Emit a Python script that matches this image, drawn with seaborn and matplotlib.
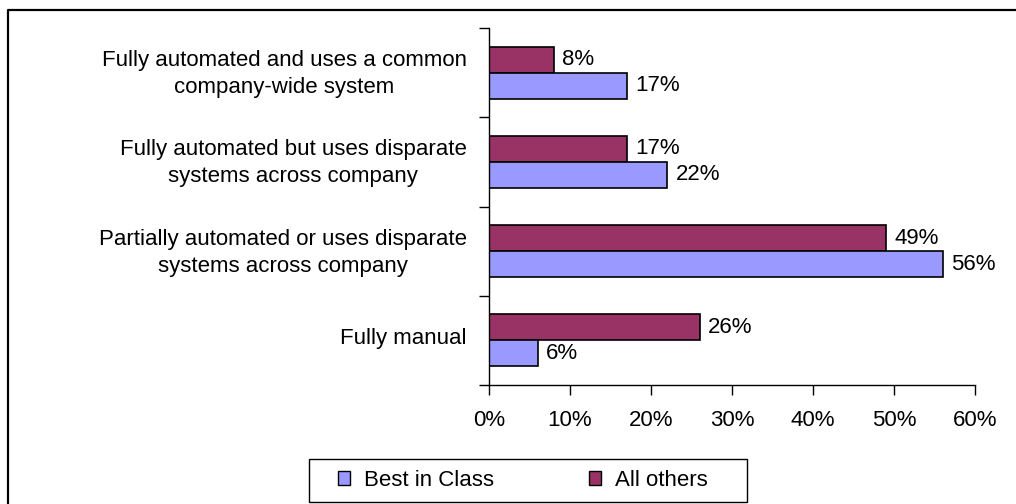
import matplotlib
matplotlib.use("Agg")
import matplotlib.pyplot as plt
import seaborn as sns
import pandas as pd
from matplotlib.lines import Line2D
from matplotlib.patches import Patch, Rectangle
from matplotlib.ticker import FixedLocator
from matplotlib.transforms import ScaledTranslation

# --- data -------------------------------------------------------------
categories = [
    "Fully automated and uses a common\ncompany-wide system",
    "Fully automated but uses disparate\nsystems across company",
    "Partially automated or uses disparate\nsystems across company",
    "Fully manual",
]
best_in_class = [17, 22, 56, 6]
all_others = [8, 17, 49, 26]
series_names = ["Best in Class", "All others"]
x_ticks = [0, 10, 20, 30, 40, 50, 60]
x_tick_labels = [f"{t}%" for t in x_ticks]

colors = {"Best in Class": "#9999FF", "All others": "#993366"}

df = pd.DataFrame({
    "category": categories * 2,
    "value": best_in_class + all_others,
    "group": [series_names[0]] * len(categories) + [series_names[1]] * len(categories),
})

# --- style ------------------------------------------------------------
sns.set_theme(style="white")
plt.rcParams["font.family"] = ["Liberation Sans", "DejaVu Sans"]
for key in ("text.color", "axes.labelcolor", "xtick.color", "ytick.color"):
    plt.rcParams[key] = "black"
FS = 16

W, H = 1016, 504
fig = plt.figure(figsize=(W / 100, H / 100), dpi=100)
fig.patch.set_facecolor("white")
ax = fig.add_axes([489 / W, 1 - 385 / H, (975 - 489) / W, (385 - 28) / H])

sns.barplot(
    data=df, y="category", x="value", hue="group",
    order=categories, hue_order=["All others", "Best in Class"],
    palette=colors, saturation=1, width=0.58, orient="h",
    edgecolor="black", linewidth=1.2, ax=ax, legend=False,
)

for cont in ax.containers:
    ax.bar_label(cont, fmt="{:.0f}%", padding=6, fontsize=FS, color="black")

ax.set_xlim(0, 60)
ax.set_ylim(len(categories) - 0.5, -0.5)
ax.set_xticks(x_ticks)
ax.set_xticklabels(x_tick_labels, fontsize=FS)
ax.set_xlabel("")
ax.set_ylabel("")

# category labels centred on the band, tick marks on the band boundaries
ax.tick_params(axis="y", which="major", length=0, pad=16, labelsize=FS, labelcolor="black")
ax.yaxis.set_minor_locator(FixedLocator([i - 0.5 for i in range(len(categories) + 1)]))
ax.tick_params(axis="y", which="minor", length=7, width=1, color="black", direction="out", left=True)
ax.tick_params(axis="x", which="major", length=7, width=1, color="black", direction="out",
               pad=11, bottom=True, labelcolor="black")
lift = ScaledTranslation(0, 4 / 100, fig.dpi_scale_trans)
for tick in ax.yaxis.get_major_ticks():
    lbl = tick.label1
    lbl.set_multialignment("center")
    lbl.set_linespacing(1.38)
    lbl.set_transform(lbl.get_transform() + lift)

for side in ("top", "right"):
    ax.spines[side].set_visible(False)
for side in ("left", "bottom"):
    ax.spines[side].set_color("black")
    ax.spines[side].set_linewidth(1.0)
ax.grid(False)

# legend below the plot: frame drawn separately, entries placed inside it
fig.add_artist(Rectangle((309 / W, 1 - 502 / H), (747 - 309) / W, (502 - 459) / H,
                         transform=fig.transFigure, facecolor="white",
                         edgecolor="black", linewidth=1.0))
handles = [Patch(facecolor=colors[n], edgecolor="black", linewidth=1.0) for n in series_names]
leg = fig.legend(
    handles, series_names, ncol=2, loc="center left",
    bbox_to_anchor=(338 / W, 1 - 480.5 / H),
    fontsize=FS, frameon=False,
    handlelength=0.55, handleheight=0.55, handletextpad=0.6, columnspacing=4.3,
    borderpad=0, borderaxespad=0,
)

# outer frame (top and left edges)
fig.add_artist(Line2D([8 / W, 8 / W, 1.0], [0.0, 1 - 10 / H, 1 - 10 / H],
                      transform=fig.transFigure, color="black", linewidth=1.6))

fig.savefig("out.png", dpi=100, facecolor="white")
